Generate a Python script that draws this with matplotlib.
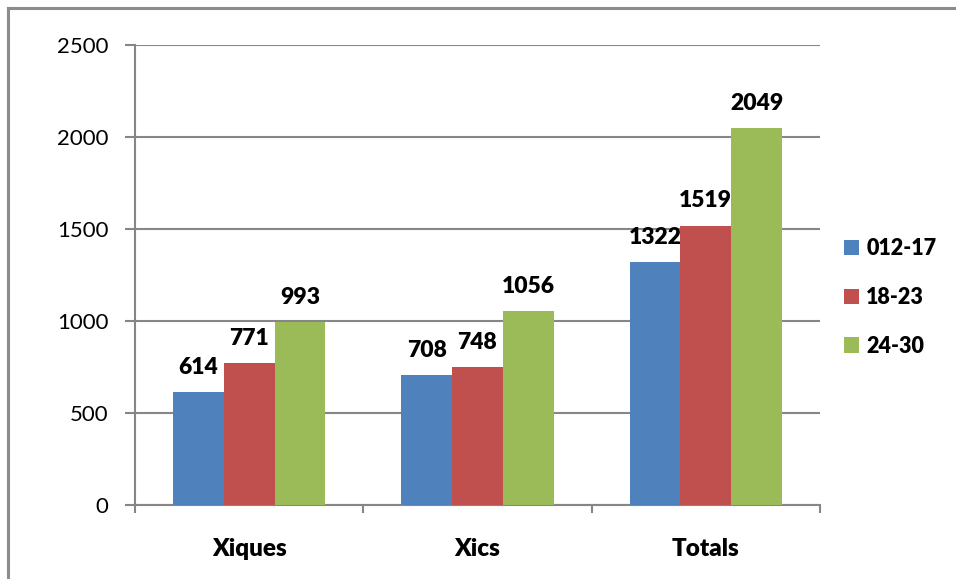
import numpy as np
import matplotlib.pyplot as plt
from matplotlib.lines import Line2D

categories = ['Xiques', 'Xics', 'Totals']
series = ['012-17', '18-23', '24-30']
v_012_17 = [614, 708, 1322]
v_18_23 = [771, 748, 1519]
v_24_30 = [993, 1056, 2049]
colors = ['#4F81BD', '#C0504D', '#9BBB59']

plt.rcParams['font.family'] = ['Lato', 'DejaVu Sans']

W, H = 956, 579
fig = plt.figure(figsize=(W / 100, H / 100), dpi=100)
ax = fig.add_axes([135 / W, 1 - 505 / H, (820 - 135) / W, (505 - 45) / H])

grey = '#868686'
x = np.arange(len(categories))
bw = 0.222
for i, (vals, name) in enumerate(zip([v_012_17, v_18_23, v_24_30], series)):
    pos = x + (i - 1) * bw
    ax.bar(pos, vals, bw, color=colors[i], label=name, zorder=3)
    for px, v in zip(pos, vals):
        ax.annotate(str(v), (px, v), xytext=(0, 13), textcoords='offset points',
                    ha='center', va='baseline', fontsize=16.5, fontweight='heavy')

ax.set_xlim(-0.5, 2.5)
ax.set_ylim(0, 2500)
ax.set_yticks(np.arange(0, 2501, 500))
ax.yaxis.grid(True, color=grey, linewidth=1.5, zorder=0)

# category labels between boundary ticks
ax.set_xticks([-0.5, 0.5, 1.5, 2.5])
ax.set_xticklabels([])
ax.set_xticks(x, minor=True)
ax.set_xticklabels(categories, minor=True, fontsize=17.5, fontweight='heavy')
ax.tick_params(axis='x', which='minor', length=0, pad=24)
ax.tick_params(axis='x', which='major', length=6, width=1.5, color=grey)
ax.tick_params(axis='y', length=7, width=1.5, color=grey, pad=12, labelsize=16)

for s in ['top', 'right']:
    ax.spines[s].set_visible(False)
ax.spines['left'].set_color(grey)
ax.spines['left'].set_linewidth(1.5)
ax.spines['bottom'].set_color(grey)
ax.spines['bottom'].set_linewidth(1.5)

leg = ax.legend(loc='center left', bbox_to_anchor=(1.0, 0.452), frameon=False,
                prop={'weight': 'heavy', 'size': 15.5}, handlelength=0.7,
                handleheight=0.7, handletextpad=0.35, labelspacing=1.3,
                borderaxespad=0.7)

# outer chart border (only top and left visible)
fig.add_artist(Line2D([8 / W, 8 / W], [0, 1 - 8 / H], color='#8c8c8c', linewidth=2.2,
                      transform=fig.transFigure))
fig.add_artist(Line2D([8 / W, 1], [1 - 8 / H, 1 - 8 / H], color='#8c8c8c', linewidth=2.2,
                      transform=fig.transFigure))

fig.savefig('out.png', dpi=100)
